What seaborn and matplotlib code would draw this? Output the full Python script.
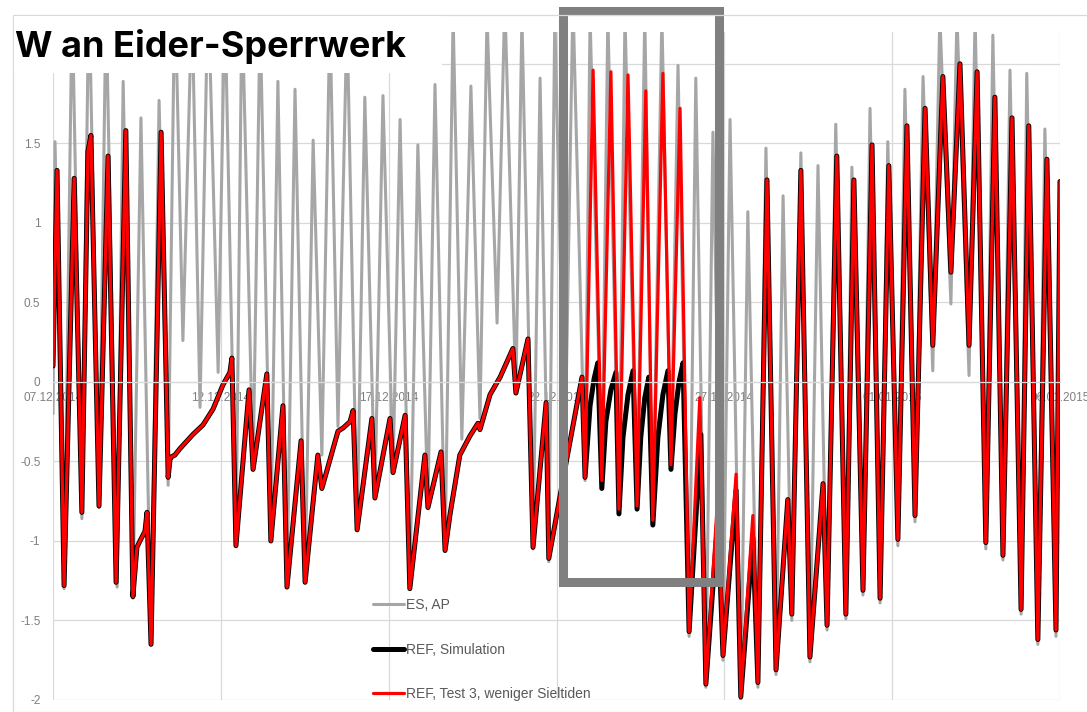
import numpy as np
import pandas as pd
import matplotlib
matplotlib.use("Agg")
import matplotlib.pyplot as plt
import matplotlib.dates as mdates
from matplotlib.patches import Rectangle
from matplotlib.ticker import FuncFormatter
import seaborn as sns

# ======================= Data (days after 07.12.2014 00:00, water level in m) =======================
start = pd.Timestamp("2014-12-07")

# ES, AP - outer gauge (high/low waters)
es_days = [0.00, 0.06, 0.33, 0.57, 0.86, 1.07, 1.37, 1.58, 1.91, 2.09, 2.38, 2.62, 2.92, 3.16, 3.43,
           3.63, 3.87, 4.14, 4.38, 4.62, 4.92, 5.12, 5.45, 5.63, 5.96, 6.17, 6.49, 6.70, 6.97, 7.21,
           7.51, 7.75, 8.01, 8.25, 8.49, 8.76, 9.06, 9.29, 9.59, 9.83, 10.13, 10.34, 10.63, 10.87,
           11.17, 11.38, 11.68, 11.92, 12.18, 12.45, 12.72, 12.93, 13.23, 13.46, 13.79, 13.97, 14.30,
           14.51, 14.77, 14.95, 15.25, 15.49, 15.85, 16.00, 16.35, 16.53, 16.86, 17.04, 17.40, 17.63,
           17.87, 18.14, 18.41, 18.62, 18.95, 19.15, 19.45, 19.66, 19.96, 20.17, 20.49, 20.70, 21.00,
           21.24, 21.54, 21.75, 22.01, 22.28, 22.55, 22.79, 23.06, 23.32, 23.62, 23.80, 24.13, 24.34,
           24.64, 24.87, 25.17, 25.38, 25.68, 25.92, 26.21, 26.42, 26.75, 26.93, 27.29, 27.47, 27.79,
           28.00, 28.30, 28.51, 28.84, 29.01, 29.34, 29.55, 29.88, 30.00]
es_w = [-0.20, 1.51, -1.30, 2.40, -0.86, 2.50, -0.79, 2.40, -1.29, 1.89, -1.36, 1.66, -1.65, 1.77, -0.65,
        2.50, 0.26, 2.40, -0.16, 2.50, 0.06, 2.40, -1.03, 2.40, -0.55, 2.30, -1.00, 1.89, -1.29, 1.84,
        -1.26, 1.52, -0.46, 2.30, -0.28, 2.30, -0.93, 1.79, -0.73, 1.80, -0.57, 1.65, -1.30, 1.49,
        -0.79, 1.87, -1.06, 2.30, -0.36, 1.86, -0.23, 2.30, 0.37, 2.40, -0.07, 2.30, -1.05,
        1.91, -1.13, 2.30, -0.50, 2.40, -0.62, 2.30, -0.64, 2.30, -0.82, 2.30, -0.80, 2.30,
        -0.90, 2.30, -0.55, 1.99, -1.60, 1.91, -1.92, 1.57, -1.75, 1.65, -2.02, 1.07, -1.92,
        1.47, -1.84, 1.17, -1.50, 1.44, -1.76, 1.36, -1.56, 1.62, -1.49, 1.35, -1.34, 1.72,
        -1.39, 1.51, -1.03, 1.84, -0.88, 1.92, 0.07, 2.30, 0.49, 2.30, 0.04, 2.30, -1.05,
        2.18, -1.12, 1.96, -1.46, 1.94, -1.65, 1.59, -1.60, 1.26]

# REF, Test 3, weniger Sieltiden
test3_days = [0.00, 0.12, 0.33, 0.63, 0.86, 1.04, 1.13, 1.37, 1.64, 1.88, 2.17, 2.38, 2.50, 2.59, 2.74,
              2.80, 2.92, 3.22, 3.43, 3.49, 3.54, 3.63, 3.78, 4.17, 4.47, 4.77, 5.06, 5.27, 5.33,
              5.45, 5.84, 5.96, 6.37, 6.49, 6.85, 6.97, 7.39, 7.51, 7.89, 8.01, 8.49, 8.64, 8.85,
              8.94, 9.06, 9.50, 9.59, 10.04, 10.13, 10.49, 10.63, 11.08, 11.17, 11.56, 11.68, 11.83,
              12.12, 12.42, 12.66, 12.72, 13.02, 13.32, 13.70, 13.79, 14.15, 14.30, 14.69, 14.77,
              15.31, 15.76, 15.85, 16.09, 16.35, 16.62, 16.86, 17.13, 17.40, 17.66, 17.87, 18.17,
              18.41, 18.68, 18.95, 19.27, 19.45, 19.81, 19.96, 20.35, 20.49, 20.85, 21.00, 21.27,
              21.54, 21.89, 22.01, 22.28, 22.55, 22.94, 23.06, 23.35, 23.62, 23.86, 24.13, 24.40,
              24.64, 24.90, 25.17, 25.44, 25.68, 25.98, 26.21, 26.51, 26.75, 27.02, 27.29, 27.53,
              27.79, 28.06, 28.30, 28.57, 28.84, 29.07, 29.34, 29.61, 29.88, 30.00]
test3_w = [0.10, 1.33, -1.28, 1.28, -0.82, 1.45, 1.55, -0.78, 1.42, -1.26, 1.58, -1.35, -1.04, -1.00, -0.94,
           -0.82, -1.65, 1.57, -0.60, -0.48, -0.47, -0.46, -0.42, -0.33, -0.27, -0.17, -0.02, 0.06, 0.15,
           -1.03, -0.05, -0.55, 0.05, -1.00, -0.15, -1.29, -0.37, -1.26, -0.46, -0.67, -0.31, -0.29, -0.25,
           -0.18, -0.93, -0.23, -0.73, -0.23, -0.57, -0.21, -1.30, -0.46, -0.79, -0.44, -1.06, -0.83,
           -0.46, -0.34, -0.26, -0.30, -0.08, 0.03, 0.21, -0.07, 0.27, -1.04, -0.13, -1.11,
           -0.48, 0.03, -0.60, 1.96, -0.62, 1.95, -0.80, 1.93, -0.78, 1.83, -0.87, 1.94,
           -0.52, 1.72, -1.57, -0.10, -1.90, -0.70, -1.72, -0.58, -1.98, -0.84, -1.89, 1.27,
           -1.81, -0.74, -1.46, 1.33, -1.73, -0.64, -1.53, 1.42, -1.46, 1.27, -1.31, 1.49,
           -1.36, 1.36, -0.99, 1.61, -0.84, 1.72, 0.23, 1.92, 0.69, 2.00, 0.23, 1.95,
           -1.01, 1.79, -1.09, 1.66, -1.43, 1.61, -1.62, 1.40, -1.56, 1.26]

# REF, Simulation: identical to Test 3 except between 22.12. and 28.12.
sim_seg_days = [16.00, 16.12, 16.23, 16.35, 16.47, 16.62, 16.77, 16.86, 16.98, 17.13, 17.28, 17.40,
                17.51, 17.63, 17.75, 17.87, 18.02, 18.17, 18.32, 18.41, 18.53, 18.65, 18.77, 18.95,
                19.30, 19.45, 19.81, 19.96, 20.35, 20.49, 20.85, 21.00]
sim_seg_w = [-0.15, 0.02, 0.12, -0.67, -0.25, -0.05, 0.06, -0.83, -0.35, -0.08, 0.07, -0.80,
             -0.35, -0.10, 0.03, -0.90, -0.35, -0.08, 0.07, -0.55, -0.20, 0.00, 0.12, -1.57,
             -0.33, -1.90, -0.85, -1.72, -0.68, -1.98, -0.98, -1.89]

labels = ["ES, AP", "REF, Simulation", "REF, Test 3, weniger Sieltiden"]


def to_time(days):
    return start + pd.to_timedelta(np.asarray(days), unit="D")


# build REF, Simulation from Test 3 outside the differing segment
t3 = pd.DataFrame({"days": test3_days, "w": test3_w})
keep = t3[(t3["days"] <= 15.85) | (t3["days"] >= 21.27)]
sim = pd.concat([keep, pd.DataFrame({"days": sim_seg_days, "w": sim_seg_w})]).sort_values("days")

# ======================= Plot =======================
sns.set_style("white")
plt.rcParams["font.family"] = ["Liberation Sans", "DejaVu Sans"]

fig = plt.figure(figsize=(10.87, 7.12), dpi=100)
ax = fig.add_axes([53 / 1087, 12 / 712, 1007 / 1087, 668 / 712])

sns.lineplot(x=to_time(es_days), y=es_w, ax=ax, color="#a6a6a6", lw=2.2,
             label=labels[0], estimator=None)
sns.lineplot(x=to_time(sim["days"]), y=sim["w"].values, ax=ax, color="black", lw=3.6,
             label=labels[1], estimator=None)
sns.lineplot(x=to_time(test3_days), y=test3_w, ax=ax, color="#ff0000", lw=2.3,
             label=labels[2], estimator=None)

ax.set_xlim(start, start + pd.Timedelta(days=30))
ax.set_ylim(-2, 2.2)
ax.set_xticks(pd.date_range(start, periods=7, freq="5D"))
ax.xaxis.set_major_formatter(mdates.DateFormatter("%d.%m.%Y"))
ax.set_yticks(np.arange(-2, 2.01, 0.5))
# the "2" label sits under the title box in the original chart
ax.yaxis.set_major_formatter(FuncFormatter(lambda v, p: "" if v > 1.9 else f"{v:g}"))
ax.set_xlabel("")
ax.set_ylabel("")

ax.grid(True, color="#d9d9d9", lw=0.9)
ax.set_axisbelow(True)
for side in ["top", "right", "left"]:
    ax.spines[side].set_visible(False)
ax.spines["bottom"].set_position(("data", 0))
ax.spines["bottom"].set_color("#d9d9d9")
ax.spines["bottom"].set_linewidth(0.9)
ax.tick_params(axis="x", length=0, pad=7, labelsize=8.5, labelcolor="#7f7f7f")
ax.tick_params(axis="y", length=0, pad=9, labelsize=8.5, labelcolor="#7f7f7f")

# highlighted period
ax.add_patch(Rectangle((mdates.date2num(start + pd.Timedelta(days=15.18)), -1.26),
                       19.84 - 15.18, 2.33 + 1.26, fill=False, edgecolor="#808080",
                       lw=6.5, clip_on=False, zorder=10))

leg = ax.legend(loc="upper left", bbox_to_anchor=(373 / 1087, 1 - 598 / 712),
                bbox_transform=fig.transFigure, frameon=False, fontsize=10,
                handlelength=2.2, handletextpad=0.15, labelspacing=2.2,
                borderpad=0, borderaxespad=0)
for txt in leg.get_texts():
    txt.set_color("#595959")

# chart border and title
fig.add_artist(Rectangle((13 / 1087, 0), 2, (712 - 15) / 712, transform=fig.transFigure,
                         fill=False, edgecolor="#d9d9d9", lw=0.9, zorder=4))
fig.add_artist(Rectangle((14 / 1087, (712 - 73) / 712), (442 - 14) / 1087, (73 - 16) / 712,
                         transform=fig.transFigure, facecolor="white", edgecolor="none", zorder=5))
fig.text(15 / 1087, 1 - 47 / 712, "W an Eider-Sperrwerk", fontsize=26, fontweight="bold",
         family=["Inter", "DejaVu Sans"], color="black", va="center", ha="left", zorder=6)

fig.savefig("out.png", dpi=100)
